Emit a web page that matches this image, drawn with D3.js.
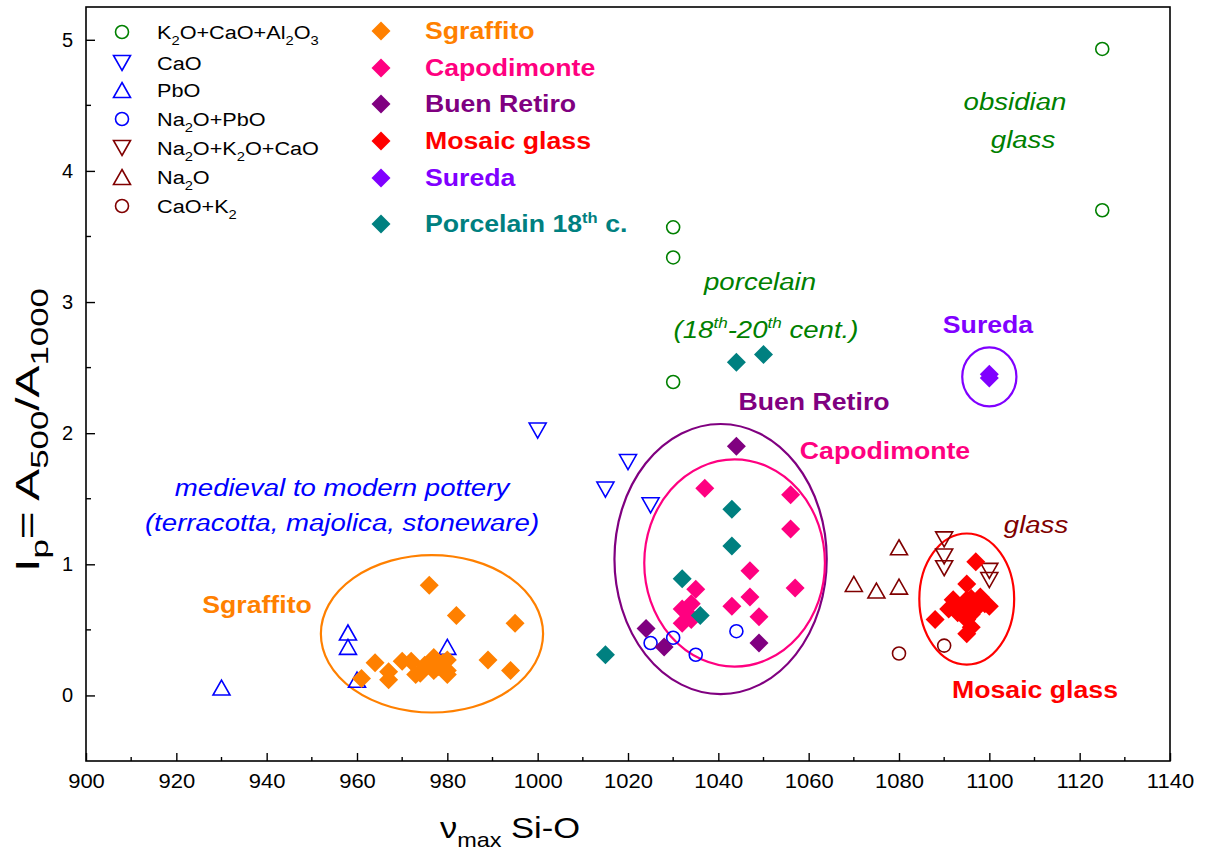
<!DOCTYPE html>
<html>
<head>
<meta charset="utf-8">
<script src="https://cdn.jsdelivr.net/npm/d3@7"></script>
<style>
  html, body { margin: 0; padding: 0; background: #fff; }
  svg { display: block; font-family: "Liberation Sans", Arial, sans-serif; }
</style>
</head>
<body>
<svg id="chart" width="1205" height="852"></svg>
<script>
// ---- Reference groups (open symbols), [ν_max Si-O, Ip] ----
const k2oCaoAl2o3 = [[1030, 3.57], [1030, 3.34], [1030, 2.39], [1125, 4.93], [1125, 3.70]];
const caoPts      = [[1000, 2.02], [1020, 1.78], [1015, 1.57], [1025, 1.45]];
const pboPts      = [[930, 0.06], [958, 0.48], [958, 0.37], [960, 0.12], [980, 0.37]];
const na2oPbo     = [[1025, 0.40], [1030, 0.44], [1035, 0.31], [1044, 0.49]];
const na2oK2oCao  = [[1090, 1.19], [1090, 1.06], [1090, 0.97], [1100, 0.95], [1100, 0.88]];
const na2oPts     = [[1070, 0.85], [1075, 0.80], [1080, 1.13], [1080, 0.83]];
const caoK2       = [[1080, 0.32], [1090, 0.38]];

// ---- Studied sets (filled diamonds) ----
const sgraffito = [[961, 0.13], [964, 0.25], [967, 0.18], [967, 0.12], [970, 0.26], [972, 0.26],
  [973, 0.16], [974, 0.17], [975, 0.23], [976, 0.84], [977, 0.29], [977, 0.19], [977.5, 0.21],
  [978, 0.22], [979, 0.25], [980, 0.27], [980, 0.16], [980, 0.19], [982, 0.61], [989, 0.27],
  [994, 0.19], [995, 0.55]];
const capodimonte = [[1037, 1.58], [1056, 1.53], [1056, 1.27], [1047, 0.95], [1057, 0.82],
  [1035, 0.81], [1047, 0.75], [1043, 0.68], [1049, 0.60], [1034, 0.70], [1032, 0.66],
  [1033, 0.63], [1032, 0.55], [1034, 0.58]];
const buenRetiro = [[1044, 1.90], [1024, 0.51], [1028, 0.37], [1049, 0.40]];
const mosaicGlass = [[1088, 0.58], [1091, 0.66], [1092, 0.73], [1093, 0.63], [1094, 0.67],
  [1095, 0.85], [1095, 0.73], [1095, 0.58], [1095, 0.47], [1096, 0.52], [1096, 0.74],
  [1097, 0.66], [1097, 1.02], [1098, 0.75], [1099, 0.70], [1100, 0.68], [1096, 0.62]];
const sureda = [[1100, 2.45], [1100, 2.42]];
const porcelain18 = [[1015, 0.31], [1032, 0.89], [1036, 0.61], [1043, 1.42], [1043, 1.14],
  [1044, 2.54], [1050, 2.60]];

// ---- Grouping ellipses: centre and semi-axes in data units ----
const groupEllipses = [
  { key: "sgraffito",   cx: 976.6,  cy: 0.47,  rx: 24.6, ry: 0.60 },
  { key: "buenRetiro",  cx: 1040.5, cy: 1.04,  rx: 23.5, ry: 1.03 },
  { key: "capodimonte", cx: 1043.6, cy: 1.01,  rx: 20.0, ry: 0.79 },
  { key: "mosaic",      cx: 1095.0, cy: 0.735, rx: 10.5, ry: 0.50 },
  { key: "sureda",      cx: 1100.0, cy: 2.43,  rx: 6.0,  ry: 0.225 }
];

// ---- Axes ----
const xTicks = [900, 920, 940, 960, 980, 1000, 1020, 1040, 1060, 1080, 1100, 1120, 1140];
const yTicks = [0, 1, 2, 3, 4, 5];

const colors = {
  green: "#008000", blue: "#0000ff", darkRed: "#800000", orange: "#ff8000",
  pink: "#ff0080", purple: "#800080", red: "#ff0000", violet: "#8000ff", teal: "#008080"
};

const svg = d3.select("#chart");
const x = d3.scaleLinear().domain([900, 1140]).range([86, 1170]);
const y = d3.scaleLinear().domain([-0.5, 5.25]).range([761, 7]);

// marker shapes
const shapes = {
  circle: "M6.5,0A6.5,6.5 0 1,1 -6.5,0A6.5,6.5 0 1,1 6.5,0Z",
  up: "M0,-7.5L8.5,7.5L-8.5,7.5Z",
  down: "M0,7.5L8.5,-7.5L-8.5,-7.5Z",
  diamond: "M0,-9.5L9.5,0L0,9.5L-9.5,0Z"
};

function openMarks(data, shape, color) {
  svg.append("g").selectAll("path").data(data).join("path")
    .attr("d", shapes[shape])
    .attr("transform", d => `translate(${x(d[0])},${y(d[1])})`)
    .attr("fill", "none").attr("stroke", color).attr("stroke-width", 1.6);
}
function filledMarks(data, color) {
  svg.append("g").selectAll("path").data(data).join("path")
    .attr("d", shapes.diamond)
    .attr("transform", d => `translate(${x(d[0])},${y(d[1])})`)
    .attr("fill", color);
}

// horizontally stretched text; parts = [[text, kind]] where kind: null | "sub" | "sup"
function label(px, py, parts, opts) {
  const g = svg.append("g").attr("transform", `translate(${px},${py}) scale(${opts.sx || 1.15},1)`);
  const t = g.append("text")
    .attr("text-anchor", opts.anchor || "start")
    .attr("font-size", opts.size)
    .attr("font-weight", opts.bold ? "bold" : "normal")
    .attr("font-style", opts.italic ? "italic" : "normal")
    .attr("fill", opts.color || "#000");
  if (typeof parts === "string") parts = [[parts, null]];
  let shift = 0;
  parts.forEach(([txt, kind]) => {
    const ts = t.append("tspan").text(txt);
    let target = 0;
    if (kind === "sub") { target = opts.size * 0.3; ts.attr("font-size", opts.size * 0.68); }
    if (kind === "sup") { target = -opts.size * 0.4; ts.attr("font-size", opts.size * 0.62); }
    ts.attr("dy", target - shift);
    shift = target;
  });
  return g;
}

// ---- Ellipses ----
const ellipseColor = { sgraffito: colors.orange, buenRetiro: colors.purple, capodimonte: colors.pink,
  mosaic: colors.red, sureda: colors.violet };
svg.append("g").selectAll("ellipse").data(groupEllipses).join("ellipse")
  .attr("cx", d => x(d.cx)).attr("cy", d => y(d.cy))
  .attr("rx", d => x(d.cx + d.rx) - x(d.cx))
  .attr("ry", d => y(d.cy - d.ry) - y(d.cy))
  .attr("fill", "none")
  .attr("stroke", d => ellipseColor[d.key])
  .attr("stroke-width", 2.2);

// ---- Open symbols ----
openMarks(k2oCaoAl2o3, "circle", colors.green);
openMarks(caoPts, "down", colors.blue);
openMarks(pboPts, "up", colors.blue);
openMarks(na2oPbo, "circle", colors.blue);
openMarks(na2oK2oCao, "down", colors.darkRed);
openMarks(na2oPts, "up", colors.darkRed);
openMarks(caoK2, "circle", colors.darkRed);

// ---- Filled diamonds ----
filledMarks(sgraffito, colors.orange);
filledMarks(capodimonte, colors.pink);
filledMarks(buenRetiro, colors.purple);
filledMarks(mosaicGlass, colors.red);
filledMarks(sureda, colors.violet);
filledMarks(porcelain18, colors.teal);

// ---- Frame and ticks ----
const [x0, x1] = x.range();
const [y0, y1] = y.range();
svg.append("rect").attr("x", x0).attr("y", y1).attr("width", x1 - x0).attr("height", y0 - y1)
  .attr("fill", "none").attr("stroke", "#000").attr("stroke-width", 1.6);

const xAxis = d3.axisBottom(x).tickValues(xTicks).tickSize(-8).tickPadding(13).tickFormat(d3.format("d"));
const gx = svg.append("g").attr("transform", `translate(0,${y0})`).call(xAxis);
const xMinor = d3.range(910, 1140, 20);
gx.selectAll(".minor").data(xMinor).join("line").attr("class", "minor")
  .attr("x1", d => x(d)).attr("x2", d => x(d)).attr("y1", 0).attr("y2", -4)
  .attr("stroke", "#000").attr("stroke-width", 1.4);

const yAxis = d3.axisLeft(y).tickValues(yTicks).tickSize(-9).tickPadding(13).tickFormat(d3.format("d"));
const gy = svg.append("g").attr("transform", `translate(${x0},0)`).call(yAxis);
const yMinor = [0.5, 1.5, 2.5, 3.5, 4.5];
gy.selectAll(".minor").data(yMinor).join("line").attr("class", "minor")
  .attr("y1", d => y(d)).attr("y2", d => y(d)).attr("x1", 0).attr("x2", 5)
  .attr("stroke", "#000").attr("stroke-width", 1.4);

[gx, gy].forEach(g => {
  g.select(".domain").remove();
  g.selectAll(".tick line").attr("stroke-width", 1.4);
  g.selectAll(".tick text").attr("font-size", 20).attr("fill", "#000")
    .attr("font-family", "'Liberation Sans', Arial, sans-serif");
});
gx.selectAll(".tick text").attr("transform", "scale(1.1,1)");

// ---- Axis titles ----
label(510, 838, [["ν", null], ["max", "sub"], [" Si-O", null]], { size: 30, anchor: "middle", sx: 1.15 });
const yTitle = svg.append("g").attr("transform", "translate(39,430) rotate(-90) scale(1.45,1)");
const yt = yTitle.append("text").attr("text-anchor", "middle").attr("font-size", 33).attr("fill", "#000");
[["I", 0], ["p", 1], ["= A", 0], ["500", 1], ["/A", 0], ["1000", 1]].forEach(([s, sub], i, arr) => {
  const prev = i ? arr[i - 1][1] : 0;
  yt.append("tspan").text(s)
    .attr("font-size", sub ? 24 : 33)
    .attr("dy", (sub - prev) * 9);
});

// ---- Legend: open-symbol groups ----
const legendOpen = [
  { shape: "circle", color: colors.green, parts: [["K", null], ["2", "sub"], ["O+CaO+Al", null], ["2", "sub"], ["O", null], ["3", "sub"]] },
  { shape: "down", color: colors.blue, parts: [["CaO", null]] },
  { shape: "up", color: colors.blue, parts: [["PbO", null]] },
  { shape: "circle", color: colors.blue, parts: [["Na", null], ["2", "sub"], ["O+PbO", null]] },
  { shape: "down", color: colors.darkRed, parts: [["Na", null], ["2", "sub"], ["O+K", null], ["2", "sub"], ["O+CaO", null]] },
  { shape: "up", color: colors.darkRed, parts: [["Na", null], ["2", "sub"], ["O", null]] },
  { shape: "circle", color: colors.darkRed, parts: [["CaO+K", null], ["2", "sub"]] }
];
const legendOpenY = [32, 63, 90, 119, 148, 177, 206];
legendOpen.forEach((d, i) => {
  const cy = legendOpenY[i];
  svg.append("path").attr("d", shapes[d.shape]).attr("transform", `translate(122,${cy})`)
    .attr("fill", "none").attr("stroke", d.color).attr("stroke-width", 1.6);
  label(157, cy + 7, d.parts, { size: 19, sx: 1.14 });
});

// ---- Legend: studied sets ----
const legendFilled = [
  { color: colors.orange, parts: [["Sgraffito", null]] },
  { color: colors.pink, parts: [["Capodimonte", null]] },
  { color: colors.purple, parts: [["Buen Retiro", null]] },
  { color: colors.red, parts: [["Mosaic glass", null]] },
  { color: colors.violet, parts: [["Sureda", null]] },
  { color: colors.teal, parts: [["Porcelain 18", null], ["th", "sup"], [" c.", null]] }
];
const legendFilledY = [31, 68, 104, 141, 178, 224];
legendFilled.forEach((d, i) => {
  const cy = legendFilledY[i];
  svg.append("path").attr("d", shapes.diamond).attr("transform", `translate(381,${cy})`).attr("fill", d.color);
  label(425, cy + 8, d.parts, { size: 23, bold: true, color: d.color, sx: 1.16 });
});

// ---- Annotations ----
const italicStyle = { size: 24, italic: true, anchor: "middle", sx: 1.15 };
const boldStyle = { size: 23, bold: true, anchor: "middle", sx: 1.16 };
label(1015, 110, "obsidian", { ...italicStyle, color: colors.green });
label(1023, 148, "glass", { ...italicStyle, color: colors.green });
label(760, 290, "porcelain", { ...italicStyle, color: colors.green });
label(766, 338, [["(18", null], ["th", "sup"], ["-20", null], ["th", "sup"], [" cent.)", null]],
  { ...italicStyle, color: colors.green });
label(988, 333, "Sureda", { ...boldStyle, color: colors.violet });
label(814, 410, "Buen Retiro", { ...boldStyle, color: colors.purple });
label(885, 459, "Capodimonte", { ...boldStyle, color: colors.pink });
label(342, 496, "medieval to modern pottery", { ...italicStyle, color: colors.blue });
label(342, 531, "(terracotta, majolica, stoneware)", { ...italicStyle, color: colors.blue });
label(257, 613, "Sgraffito", { ...boldStyle, color: colors.orange });
label(1036, 533, "glass", { ...italicStyle, color: colors.darkRed });
label(1035, 698, "Mosaic glass", { ...boldStyle, color: colors.red });
</script>
</body>
</html>
